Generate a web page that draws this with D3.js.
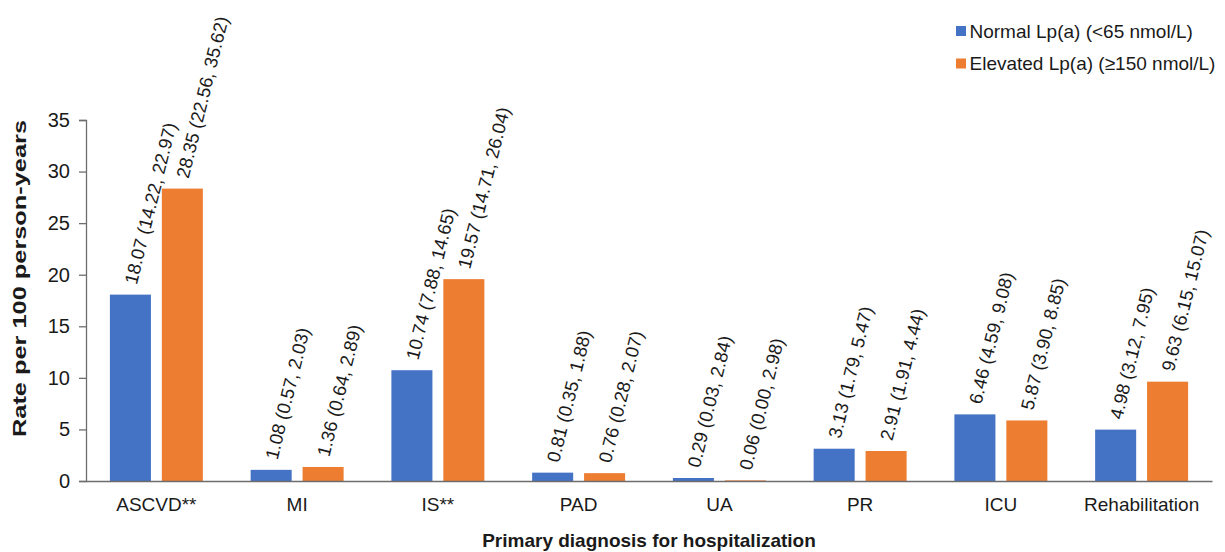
<!DOCTYPE html>
<html>
<head>
<meta charset="utf-8">
<script src="https://cdn.jsdelivr.net/npm/d3@7"></script>
<style>
  html, body { margin: 0; padding: 0; background: #fff; }
  svg { display: block; font-family: "Liberation Sans", Arial, sans-serif; }
</style>
</head>
<body>
<svg id="chart" width="1225" height="552"></svg>
<script>
const categories = ["ASCVD**", "MI", "IS**", "PAD", "UA", "PR", "ICU", "Rehabilitation"];
const seriesNames = ["Normal Lp(a) (<65 nmol/L)", "Elevated Lp(a) (\u2265150 nmol/L)"];
const normalValues = [18.07, 1.08, 10.74, 0.81, 0.29, 3.13, 6.46, 4.98];
const normalLow = [14.22, 0.57, 7.88, 0.35, 0.03, 1.79, 4.59, 3.12];
const normalHigh = [22.97, 2.03, 14.65, 1.88, 2.84, 5.47, 9.08, 7.95];
const elevatedValues = [28.35, 1.36, 19.57, 0.76, 0.06, 2.91, 5.87, 9.63];
const elevatedLow = [22.56, 0.64, 14.71, 0.28, 0.00, 1.91, 3.90, 6.15];
const elevatedHigh = [35.62, 2.89, 26.04, 2.07, 2.98, 4.44, 8.85, 15.07];
const yTicks = [0, 5, 10, 15, 20, 25, 30, 35];
const colors = ["#4472C4", "#ED7D31"];

const svg = d3.select("#chart");
const margin = { left: 86, right: 13, top: 120, bottom: 71 };
const W = 1225, H = 552;
const textColor = "#1a1a1a";
const axisColor = "#6d6d6d";

const x = d3.scaleBand().domain(categories).range([margin.left, W - margin.right]).paddingInner(0).paddingOuter(0);
const inner = d3.scaleBand().domain([0, 1]).range([0, x.bandwidth()]).paddingInner(0.21).paddingOuter(0.46);
const y = d3.scaleLinear().domain([0, 35]).range([H - margin.bottom, margin.top]);

const series = [
  { name: seriesNames[0], values: normalValues, low: normalLow, high: normalHigh },
  { name: seriesNames[1], values: elevatedValues, low: elevatedLow, high: elevatedHigh }
];

const data = [];
categories.forEach((c, i) => {
  series.forEach((s, j) => {
    data.push({ cat: c, j, v: s.values[i], lo: s.low[i], hi: s.high[i] });
  });
});

// bars
svg.append("g").selectAll("rect").data(data).join("rect")
  .attr("x", d => x(d.cat) + inner(d.j))
  .attr("y", d => y(d.v))
  .attr("width", inner.bandwidth())
  .attr("height", d => y(0) - y(d.v))
  .attr("fill", d => colors[d.j]);

// labels
const fmt = d3.format(".2f");
svg.append("g").selectAll("text").data(data).join("text")
  .attr("transform", d => {
    const cx = x(d.cat) + inner(d.j) + inner.bandwidth() / 2;
    const cy = y(d.v) - 11;
    return `translate(${cx},${cy}) rotate(-76)`;
  })
  .attr("dy", "0.35em")
  .attr("font-size", 18.4)
  .attr("fill", textColor)
  .text(d => `${fmt(d.v)} (${fmt(d.lo)}, ${fmt(d.hi)})`);

// y axis
const yAxis = svg.append("g").attr("transform", `translate(${margin.left},0)`)
  .call(d3.axisLeft(y).tickValues(yTicks).tickSize(7).tickPadding(9).tickFormat(d3.format("d")));
yAxis.select(".domain").attr("stroke", axisColor).attr("stroke-width", 1.3);
yAxis.selectAll(".tick line").attr("stroke", axisColor).attr("stroke-width", 1.3);
yAxis.selectAll("text").attr("font-size", 20).attr("fill", textColor).attr("font-family", "Liberation Sans, Arial, sans-serif");

// x axis
const xAxis = svg.append("g").attr("transform", `translate(0,${y(0)})`)
  .call(d3.axisBottom(x).tickSize(0).tickPadding(17));
xAxis.select(".domain").attr("stroke", axisColor).attr("stroke-width", 1.3);
xAxis.selectAll("text").attr("font-size", 19).attr("fill", textColor).attr("font-family", "Liberation Sans, Arial, sans-serif");

// axis titles
svg.append("text")
  .attr("transform", `translate(26,${(120 + 437) / 2}) rotate(-90)`)
  .attr("text-anchor", "middle")
  .attr("font-size", 19).attr("font-weight", "bold").attr("fill", textColor)
  .attr("textLength", 317).attr("lengthAdjust", "spacingAndGlyphs")
  .text("Rate per 100 person-years");

svg.append("text")
  .attr("x", (margin.left + W - margin.right) / 2)
  .attr("y", 547)
  .attr("text-anchor", "middle")
  .attr("font-size", 19).attr("font-weight", "bold").attr("fill", textColor)
  .text("Primary diagnosis for hospitalization");

// legend
const legend = svg.append("g").attr("transform", "translate(956,31)");
series.forEach((s, j) => {
  const g = legend.append("g").attr("transform", `translate(0,${j * 32.5})`);
  g.append("rect").attr("x", 0).attr("y", -5).attr("width", 10).attr("height", 10).attr("fill", colors[j]);
  g.append("text").attr("x", 13.5).attr("y", 0).attr("dy", "0.35em")
    .attr("font-size", 19).attr("fill", textColor).text(s.name);
});
</script>
</body>
</html>
